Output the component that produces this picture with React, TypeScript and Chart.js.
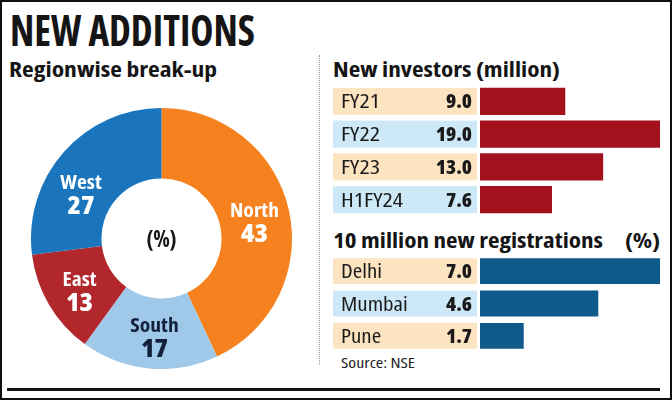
import React, { useEffect, useLayoutEffect, useRef } from "react";
import { Chart, registerables } from "chart.js";

Chart.register(...registerables);

// ---- data ----
const regions = ["North", "South", "East", "West"];
const regionShares = [43, 17, 13, 27];
const investorPeriods = ["FY21", "FY22", "FY23", "H1FY24"];
const newInvestors = [9.0, 19.0, 13.0, 7.6];
const cities = ["Delhi", "Mumbai", "Pune"];
const cityShares = [7.0, 4.6, 1.7];

const FONT = '"Open Sans", "DejaVu Sans", sans-serif';

function setFont(ctx: any, font: string) {
  ctx.font = font;
  try {
    ctx.fontStretch = "condensed";
  } catch (e) {}
}

function kFor(ctx: any, font: string, sample: string, target: number) {
  ctx.save();
  setFont(ctx, font);
  const w = ctx.measureText(sample).width;
  ctx.restore();
  return w > 0 ? target / w : 1;
}

function drawFit(ctx: any, text: string, x: number, y: number, font: string, align: string, k: number) {
  ctx.save();
  setFont(ctx, font);
  ctx.translate(x, y);
  ctx.scale(k, 1);
  ctx.textAlign = align;
  ctx.fillText(text, 0, 0);
  ctx.restore();
}

const doughnutLabels = {
  id: "doughnutLabels",
  afterDatasetsDraw(chart: any, _args: any, opts: any) {
    const ctx = chart.ctx;
    const meta = chart.getDatasetMeta(0);
    const values = chart.data.datasets[0].data;
    const labels = chart.data.labels;
    const nameFont = `bold 20px ${FONT}`;
    const numFont = `800 24px ${FONT}`;
    const cFont = `bold 23px ${FONT}`;
    const kName = kFor(ctx, nameFont, String(labels[0]), opts.nameWidth);
    const kNum = kFor(ctx, numFont, String(values[0]), opts.numWidth);
    meta.data.forEach((arc: any, i: number) => {
      const p = arc.tooltipPosition();
      const off = (opts.offsets && opts.offsets[i]) || [0, 0];
      const x = p.x + off[0];
      const y = p.y + off[1];
      ctx.save();
      ctx.fillStyle = opts.textColors[i];
      ctx.textBaseline = "alphabetic";
      drawFit(ctx, String(labels[i]), x, y - 1, nameFont, "center", kName);
      drawFit(ctx, String(values[i]), x, y + 24, numFont, "center", kNum);
      ctx.restore();
    });
    const a = meta.data[0];
    ctx.save();
    ctx.fillStyle = "#151515";
    ctx.textBaseline = "alphabetic";
    const kC = kFor(ctx, cFont, opts.centerText, opts.centerWidth);
    drawFit(ctx, opts.centerText, a.x, a.y + 8, cFont, "center", kC);
    ctx.restore();
  },
};

const rowCells = {
  id: "rowCells",
  beforeDatasetsDraw(chart: any, _args: any, opts: any) {
    const ctx = chart.ctx;
    const meta = chart.getDatasetMeta(0);
    const area = chart.chartArea;
    const values = chart.data.datasets[0].data;
    const labels = chart.data.labels;
    const lFont = `20px ${FONT}`;
    const vFont = `800 20px ${FONT}`;
    const kL = kFor(ctx, lFont, String(labels[0]), opts.labelWidth);
    const kV = kFor(ctx, vFont, Number(values[0]).toFixed(1), opts.valueWidth);
    meta.data.forEach((bar: any, i: number) => {
      const h = bar.height;
      const top = bar.y - h / 2;
      const left = opts.cellLeft;
      const right = area.left - opts.cellGap;
      ctx.save();
      ctx.fillStyle = opts.fills[i % opts.fills.length];
      ctx.fillRect(left, top, right - left, h);
      ctx.fillStyle = "#1a1a1a";
      ctx.textBaseline = "alphabetic";
      drawFit(ctx, String(labels[i]), left + 8, bar.y + 7, lFont, "left", kL);
      drawFit(ctx, Number(values[i]).toFixed(1), right - 5, bar.y + 7, vFont, "right", kV);
      ctx.restore();
    });
  },
};

function barConfig(
  labels: string[],
  values: number[],
  color: string,
  thickness: number,
  labelWidth: number,
  valueWidth: number
) {
  return {
    type: "bar" as const,
    data: {
      labels,
      datasets: [
        {
          data: values,
          backgroundColor: color,
          borderWidth: 0,
          barPercentage: thickness,
          categoryPercentage: 1,
        },
      ],
    },
    options: {
      indexAxis: "y" as const,
      responsive: false,
      maintainAspectRatio: false,
      animation: false as const,
      layout: { padding: { left: 150, right: 2, top: 0, bottom: 0 } },
      scales: {
        x: { display: false, min: 0, max: Math.max(...values) },
        y: { display: false },
      },
      plugins: {
        legend: { display: false },
        tooltip: { enabled: false },
        rowCells: {
          cellLeft: 3,
          cellGap: 3,
          fills: ["#fde4c1", "#cde8f6"],
          labelWidth,
          valueWidth,
        },
      },
    },
    plugins: [rowCells],
  };
}

function FitText(props: {
  content: string;
  left: number;
  baseline: number;
  size: number;
  weight: string;
  width: number;
  color?: string;
}) {
  const ref = useRef<HTMLSpanElement>(null);
  useLayoutEffect(() => {
    const el = ref.current!;
    el.style.transform = "none";
    const w = el.getBoundingClientRect().width;
    if (w > 0) el.style.transform = `scaleX(${props.width / w})`;
  }, [props.content, props.width]);
  return (
    <span
      ref={ref}
      style={{
        position: "absolute",
        display: "inline-block",
        left: props.left,
        top: props.baseline - 0.85 * props.size,
        fontSize: props.size,
        lineHeight: `${props.size}px`,
        fontWeight: props.weight as any,
        fontFamily: FONT,
        fontStretch: "condensed",
        color: props.color || "#151515",
        whiteSpace: "nowrap",
        transformOrigin: "left center",
      }}
    >
      {props.content}
    </span>
  );
}

export default function App() {
  const donutRef = useRef<HTMLCanvasElement>(null);
  const invRef = useRef<HTMLCanvasElement>(null);
  const cityRef = useRef<HTMLCanvasElement>(null);

  useEffect(() => {
    const donut = new Chart(donutRef.current!, {
      type: "doughnut",
      data: {
        labels: regions,
        datasets: [
          {
            data: regionShares,
            backgroundColor: ["#f5821f", "#a0c8e8", "#b2272c", "#1b75bc"],
            borderWidth: 0,
          },
        ],
      },
      options: {
        responsive: false,
        maintainAspectRatio: false,
        animation: false,
        cutout: "46%",
        layout: { padding: 0 },
        plugins: {
          legend: { display: false },
          tooltip: { enabled: false },
          doughnutLabels: {
            textColors: ["#ffffff", "#14213d", "#ffffff", "#ffffff"],
            offsets: [[0, 0], [2, 0], [0, 0], [-9, 14]],
            centerText: "(%)",
            nameWidth: 49,
            numWidth: 27,
            centerWidth: 30,
          },
        } as any,
      },
      plugins: [doughnutLabels],
    });
    const inv = new Chart(
      invRef.current!,
      barConfig(investorPeriods, newInvestors, "#a3111c", 0.826, 39, 26) as any
    );
    const city = new Chart(
      cityRef.current!,
      barConfig(cities, cityShares, "#0e5a8a", 0.8, 41, 26) as any
    );
    return () => {
      donut.destroy();
      inv.destroy();
      city.destroy();
    };
  }, []);

  return (
    <div
      style={{
        position: "absolute",
        left: 0,
        top: 0,
        width: 672,
        height: 400,
        background: "#ffffff",
        border: "2px solid #111",
        boxSizing: "border-box",
        overflow: "hidden",
      }}
    >
      <div style={{ position: "absolute", left: -2, top: -2, width: 672, height: 400 }}>
        <FitText content="NEW ADDITIONS" left={10} baseline={45} size={42} weight="bold" width={245} />
        <FitText content="Regionwise break-up" left={9} baseline={77} size={21} weight="bold" width={208} />
        <FitText content="New investors (million)" left={333} baseline={76} size={22} weight="bold" width={227} />
        <FitText content="10 million new registrations" left={333} baseline={247} size={22} weight="bold" width={270} />
        <FitText content="(%)" left={625} baseline={247} size={22} weight="bold" width={35} />
        <FitText content="Source: NSE" left={341} baseline={368} size={14} weight="normal" width={74} color="#222" />
        <div
          style={{
            position: "absolute",
            left: 319,
            top: 55,
            height: 310,
            width: 0,
            borderLeft: "1px dotted #9a9a9a",
          }}
        />
        <div style={{ position: "absolute", left: 7, top: 388, width: 653, height: 3, background: "#111" }} />
        <canvas
          ref={donutRef}
          width={261}
          height={261}
          style={{ position: "absolute", left: 31, top: 108, width: 261, height: 261 }}
        />
        <canvas
          ref={invRef}
          width={332}
          height={131}
          style={{ position: "absolute", left: 330, top: 85, width: 332, height: 131 }}
        />
        <canvas
          ref={cityRef}
          width={332}
          height={97}
          style={{ position: "absolute", left: 330, top: 255, width: 332, height: 97 }}
        />
      </div>
    </div>
  );
}
